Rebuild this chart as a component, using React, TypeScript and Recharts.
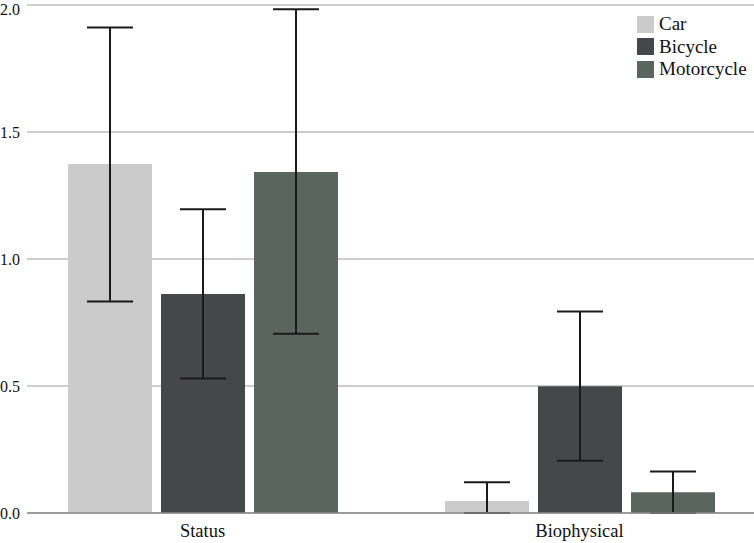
import React from 'react';
import { BarChart, Bar, XAxis, YAxis, CartesianGrid, ErrorBar } from 'recharts';

// Categories and series
const categories = ['Status', 'Biophysical'];
const yTicks = [0, 0.5, 1, 1.5, 2];

const carMean = [1.374, 0.047];
const carLow = [0.833, 0.0];
const carHigh = [1.911, 0.121];

const bicycleMean = [0.862, 0.499];
const bicycleLow = [0.53, 0.206];
const bicycleHigh = [1.196, 0.793];

const motorcycleMean = [1.343, 0.082];
const motorcycleLow = [0.706, 0.0];
const motorcycleHigh = [1.983, 0.163];

const SERIES = [
  { key: 'car', name: 'Car', color: '#cbcbcb' },
  { key: 'bicycle', name: 'Bicycle', color: '#464749' },
  { key: 'motorcycle', name: 'Motorcycle', color: '#5b655f' },
];

const FONT = "'Liberation Serif', 'Times New Roman', serif";

// ErrorBar wants [below, above] offsets from the mean
const data = categories.map((name, i) => ({
  name,
  car: carMean[i],
  carErr: [carMean[i] - carLow[i], carHigh[i] - carMean[i]],
  bicycle: bicycleMean[i],
  bicycleErr: [bicycleMean[i] - bicycleLow[i], bicycleHigh[i] - bicycleMean[i]],
  motorcycle: motorcycleMean[i],
  motorcycleErr: [motorcycleMean[i] - motorcycleLow[i], motorcycleHigh[i] - motorcycleMean[i]],
}));

// legend sits over the plot, so it is drawn outside recharts' layout
const ChartLegend = () => (
  <div style={{ position: 'absolute', left: 637, top: 13, fontSize: 19, color: '#111' }}>
    {SERIES.map((s) => (
      <div key={s.key} style={{ display: 'flex', alignItems: 'center', height: 22.5 }}>
        <span style={{ width: 17, height: 17, background: s.color, marginRight: 5, display: 'inline-block' }} />
        <span style={{ lineHeight: '22px' }}>{s.name}</span>
      </div>
    ))}
  </div>
);

const App = () => {
  return (
    <div style={{ position: 'absolute', left: 0, top: 0, width: 754, height: 543, background: '#fff', fontFamily: FONT }}>
      <BarChart
        width={754}
        height={543}
        data={data}
        margin={{ top: 5, right: 0, bottom: 0, left: 0 }}
        barSize={84}
        barGap={9}
        style={{ fontFamily: FONT }}
      >
        <CartesianGrid vertical={false} stroke="#bdbdbd" strokeWidth={1.3} />
        <XAxis
          dataKey="name"
          height={30}
          padding={{ left: -13, right: -14 }}
          axisLine={{ stroke: '#8a8a8a', strokeWidth: 1.6 }}
          tickLine={false}
          tickMargin={5}
          tick={{ fontSize: 18.5, fill: '#111', style: { fontFamily: FONT } }}
        />
        <YAxis
          width={27}
          domain={[0, 2]}
          ticks={yTicks}
          axisLine={false}
          tickLine={false}
          tickSize={6}
          tickMargin={1}
          tickFormatter={(v: number) => v.toFixed(1)}
          tick={{ fontSize: 16, fill: '#111', style: { fontFamily: FONT } }}
        />
        {SERIES.map((s) => (
          <Bar key={s.key} dataKey={s.key} name={s.name} fill={s.color} isAnimationActive={false}>
            <ErrorBar dataKey={`${s.key}Err`} width={23} stroke="#1a1a1a" strokeWidth={2} direction="y" />
          </Bar>
        ))}
      </BarChart>
      <ChartLegend />
    </div>
  );
};

export default App;
